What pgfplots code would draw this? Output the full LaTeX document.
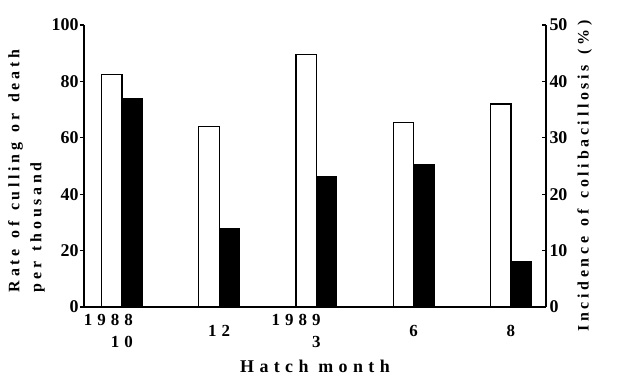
\documentclass[border=0pt]{standalone}
\usepackage{fontspec}
\setmainfont{Liberation Serif}
\newfontfamily\xlabfont{Liberation Serif Bold}[LetterSpace=30,WordSpace=1.6]
\newfontfamily\ylabfont{Liberation Serif Bold}[LetterSpace=23,WordSpace=1.4]
\newfontfamily\xtickfont{Liberation Serif Bold}[LetterSpace=30]
\newfontfamily\ytickfont{Liberation Serif Bold}
\usepackage{pgfplots}
\pgfplotsset{compat=1.18}
\begin{document}
\begin{tikzpicture}
\pgfplotsset{
  common/.style={
    scale only axis, width=462bp, height=282bp,
    xmin=-0.39, xmax=4.36, ymin=0,
    bar width=0.21,
    axis line style={line width=1.4pt},
    every tick/.style={line width=1.2pt, black},
    major tick length=4bp,
    /pgf/number format/assume math mode=true,
    yticklabel style={font=\ytickfont\fontsize{18}{20}\selectfont},
    xtick style={draw=none},
  }
}
\begin{axis}[common, ymax=100,
  axis x line*=bottom, axis y line*=left,
  tick align=outside,
  xtick={0,1,2,3,4},
  xticklabels={{\phantom{10}\llap{1988}\\10},{\\12},{\phantom{3}\llap{1989}\\3},{\\6},{\\8}},
  xticklabel style={align=center, font=\xtickfont\fontsize{17}{22}\selectfont},
  ytick={0,20,40,60,80,100},
  yticklabel style={xshift=2bp},
  xlabel={Hatch month},
  xlabel style={font=\xlabfont\fontsize{18}{20}\selectfont, yshift=-5bp},
  ylabel={Rate of culling or death\\per thousand},
  ylabel style={align=left, font=\ylabfont\fontsize{16}{22}\selectfont, xshift=-5bp},
]
\addplot[ybar, bar shift=-0.105, fill=white, draw=black, line width=1.3pt]
  coordinates {(0,82.5) (1,64) (2,89.5) (3,65.5) (4,72)};
\end{axis}
\begin{axis}[common, ymax=50, clip=false,
  axis x line=none, axis y line*=right,
  tick align=inside,
  ytick={0,10,20,30,40,50},
  ylabel={Incidence of colibacillosis (\%)},
  ylabel style={font=\ylabfont\fontsize{16}{18}\selectfont, yshift=-3bp, xshift=-10bp},
]
\addplot[ybar, bar shift=0.105, fill=black, draw=black, line width=1pt]
  coordinates {(0,37) (1,14) (2,23.2) (3,25.2) (4,8)};
\path (rel axis cs:-0.1818,-0.2766) rectangle (rel axis cs:1.1537,1.0887);
\end{axis}
\end{tikzpicture}
\end{document}
